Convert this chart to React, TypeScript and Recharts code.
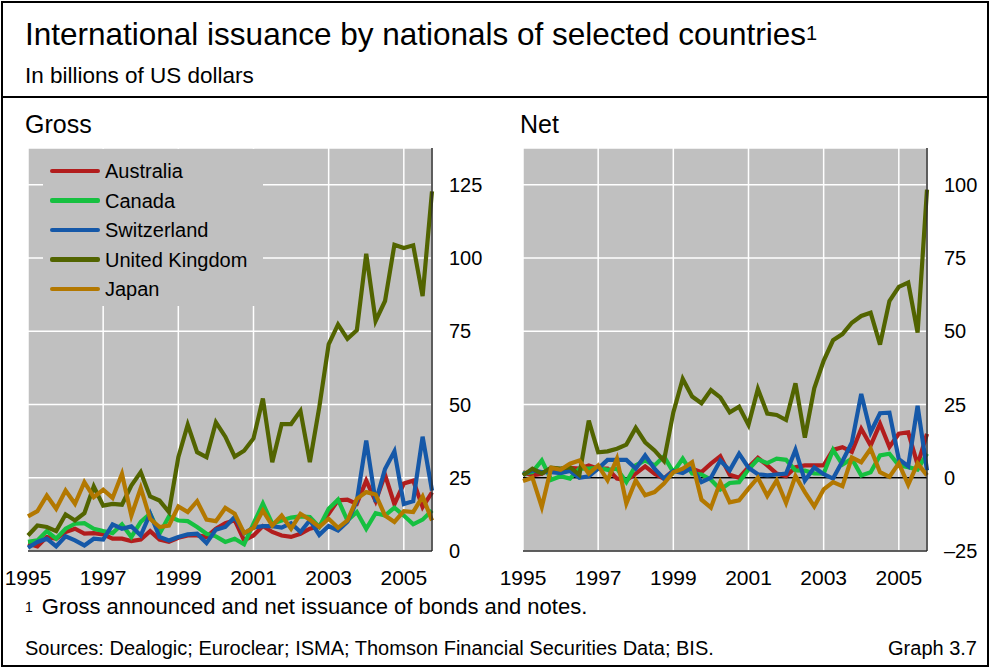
import React from 'react';
import { LineChart, Line, XAxis, YAxis, CartesianGrid, ReferenceLine } from 'recharts';

// quarterly observations, 1995 Q1 - 2005 Q4
const years = [1995, 1996, 1997, 1998, 1999, 2000, 2001, 2002, 2003, 2004, 2005];
const quarterOffsets = [0, 0.25, 0.5, 0.75];

const xTicks = [1995, 1997, 1999, 2001, 2003, 2005];
const grossTicks = [0, 25, 50, 75, 100, 125];
const netTicks = [-25, 0, 25, 50, 75, 100];

const seriesNames = ['Australia', 'Canada', 'Switzerland', 'United Kingdom', 'Japan'];
const seriesColors = ['#b21d1d', '#16c040', '#1558a8', '#526400', '#b37800'];

// Gross issuance
const grossAustralia = [2.5, 1.6, 4.8, 4.2, 6.5, 7.6, 5.9, 6.1, 5.7, 4.2, 4.2, 3.4, 3.9, 6.8, 3.9, 3.1, 4.5, 5.3, 5.3, 4.8, 7.6, 9.5, 10.5, 3.6, 5.3, 8.5, 6.5, 5.3, 4.8, 5.9, 7.6, 8.4, 12.7, 17.3, 17.5, 16.1, 24, 17, 26, 16, 23, 24, 15, 20];
const grossCanada = [3.1, 3.6, 6.8, 4.2, 7.6, 9.3, 9.5, 7.6, 6.8, 6.1, 9.1, 4.8, 9.9, 12.7, 5.9, 11.8, 10.4, 10.2, 8.2, 5.9, 5, 3.1, 4.2, 2.3, 9.3, 16.2, 9.3, 10.4, 11.4, 11.8, 11.6, 8.2, 14.4, 17.5, 10.4, 13.3, 7.6, 12.9, 12.1, 14.8, 12.1, 9.1, 10.7, 13.8];
const grossSwitzerland = [1.1, 3.1, 4.2, 1.6, 5, 3.6, 1.9, 4.2, 3.9, 9.1, 7.6, 8.4, 5.3, 12.7, 4.8, 3.6, 4.8, 5.7, 5.9, 2.7, 7.3, 8.2, 11.6, 6, 8, 8.5, 8.5, 8, 9.5, 6.5, 10.5, 5.5, 8.5, 7, 10, 17, 37.7, 16.7, 28, 34, 16, 17, 39, 20.6];
const grossUK = [5.3, 8.7, 8.2, 6.8, 12.5, 10.4, 12.9, 22, 15.5, 16.1, 15.8, 22.3, 26.9, 18.6, 17.2, 13.3, 32, 43.1, 33.7, 32, 43.9, 39, 32.2, 34.2, 38.4, 52, 30.3, 43.3, 43.3, 47.8, 30.3, 49, 70.5, 77.3, 72.4, 75.3, 101.4, 78.5, 85.3, 104.5, 103.4, 104.3, 87, 122.7];
const grossJapan = [11.8, 13.6, 18.9, 14.4, 20.6, 16.1, 23.5, 18.4, 20.9, 18.1, 26.3, 12.1, 21.5, 11, 8.2, 8.7, 15.2, 13.3, 17, 10.7, 10.2, 14.7, 12.7, 6.1, 7.9, 13.8, 8.7, 12.1, 7.6, 12.7, 10.7, 8.2, 11, 7.9, 10.4, 17.8, 20.1, 19.3, 12.1, 9.9, 13.6, 13.3, 18.6, 10.4];

// Net issuance
const netAustralia = [1.9, 0.8, 1.4, 3.1, 2.5, 3.4, 3.1, 4.2, 3.1, 3.1, -0.3, -0.9, 1.4, 3.9, 1.4, -0.3, 2.5, 2.3, 3.1, 1.9, 4.8, 7.3, 1, 0, 3.6, 6.8, 4.2, 1.4, 0.5, 3.6, 4.2, 4.2, 4.2, 9.5, 10.4, 8.8, 16.7, 11, 18.4, 10.5, 15, 15.5, 4.5, 15];
const netCanada = [1.4, 1.9, 5.9, -0.7, 0.5, -0.3, 3.1, 3.1, 3.4, 2.7, 3.1, -1.5, 4.2, 5.9, 4.2, 7.3, 1.9, 6.5, 1.4, 1.1, -0.7, -4, -1.8, -1.5, 2.8, 6.3, 5, 6.5, 6.1, 2.5, 2.4, 1.5, 1.4, 9.5, 4.5, 6.5, 0.8, 1.9, 7.6, 8.2, 4.2, 3.6, 2.8, 8.2];
const netSwitzerland = [1.1, 2.5, 1.9, 1.9, 1.6, 2.3, 0, 0.5, 3.1, 6.1, 6.1, 6.1, 3.1, 7.6, 3.1, -0.3, 2.3, 1.6, 3.4, -1.5, 0, 5.9, 2.5, 8.2, 3.4, 1.2, 0.8, 1.1, 1.4, 9.5, -1, 3.5, 1.2, -0.3, 5.6, 12, 28.6, 15.5, 22, 22.2, 6.3, 3.9, 24.5, 2.5];
const netUK = [0.8, 3.1, 1.4, 3.4, 3.1, 3.6, 1, 19.5, 8.7, 9, 9.9, 11.3, 17, 12.1, 9.3, 5.7, 22.3, 33.7, 27.7, 25.4, 29.9, 27.4, 22.3, 24.2, 18, 30.3, 21.9, 21.4, 19.7, 32.2, 13.7, 30.5, 39.9, 46.9, 49, 52.9, 55.2, 56.3, 45.4, 60.3, 65.1, 66.6, 49.5, 98.3];
const netJapan = [-1.1, 0, -10, 3.4, 2.7, 4.8, 5.9, 1.4, 4.2, -0.9, 6.5, -8.8, -0.9, -6, -4.9, -2, 1.9, 3.1, 5.3, -7.5, -10.2, -1.5, -8.4, -7.7, -3.7, 0, -6.2, -0.9, -8.6, 0.6, -4.9, -9.8, -4, -1.5, -2.9, 6.9, 5.3, 9.9, 1.9, 0.3, 4.9, -2.4, 4.9, 0.8];

const periods = years.flatMap((y) => quarterOffsets.map((q) => y + q));

const buildRows = (cols: number[][]) =>
  periods.map((t, i) => {
    const row: Record<string, number> = { t };
    seriesNames.forEach((name, k) => {
      row[name] = cols[k][i];
    });
    return row;
  });

const grossRows = buildRows([grossAustralia, grossCanada, grossSwitzerland, grossUK, grossJapan]);
const netRows = buildRows([netAustralia, netCanada, netSwitzerland, netUK, netJapan]);

const FONT = '"Liberation Sans", Arial, Helvetica, sans-serif';
const frame = { stroke: '#2a2a2a', strokeWidth: 1.5 };
const fmt = (v: number) => (v < 0 ? '\u2013' + Math.abs(v) : String(v));

function Panel({ rows, yDomain, yTicks, zero }: { rows: any[]; yDomain: number[]; yTicks: number[]; zero?: boolean }) {
  return (
    <LineChart width={500} height={460} data={rows} margin={{ top: 8, right: 8, bottom: 9, left: 28 }}>
      <CartesianGrid stroke="#ffffff" strokeWidth={1.5} fill="#c0c0c0" fillOpacity={1} />
      <XAxis
        dataKey="t"
        type="number"
        domain={[1995, 2005.75]}
        ticks={xTicks}
        interval={0}
        height={40}
        tickLine={false}
        tickSize={0}
        tickMargin={19}
        axisLine={frame}
        tick={{ fill: '#000', fontSize: 21 }}
      />
      <XAxis xAxisId="top" orientation="top" type="number" domain={[1995, 2005.75]} height={0} tick={false} tickLine={false} axisLine={frame} />
      <YAxis
        orientation="right"
        domain={yDomain}
        ticks={yTicks}
        interval={0}
        width={60}
        tickLine={false}
        tickSize={0}
        tickMargin={17}
        axisLine={frame}
        tickFormatter={fmt}
        tick={{ fill: '#000', fontSize: 20 }}
        allowDataOverflow
      />
      <YAxis yAxisId="left" orientation="left" domain={yDomain} width={0} tick={false} tickLine={false} axisLine={frame} />
      {zero && <ReferenceLine y={0} stroke="#000" strokeWidth={1.5} />}
      {seriesNames.map((name, k) => (
        <Line
          key={name}
          dataKey={name}
          type="linear"
          stroke={seriesColors[k]}
          strokeWidth={4.2}
          dot={false}
          isAnimationActive={false}
        />
      ))}
    </LineChart>
  );
}

export default function App() {
  return (
    <div style={{ position: 'absolute', left: 0, top: 0, width: 992, height: 669, background: '#fff', fontFamily: FONT, color: '#000' }}>
      <div style={{ position: 'absolute', left: 1, top: 1, width: 988, height: 666, border: '2px solid #000', boxSizing: 'border-box' }} />
      <div style={{ position: 'absolute', left: 1, top: 96, width: 988, height: 2, background: '#000' }} />

      <div style={{ position: 'absolute', left: 25, top: 18, fontSize: 31.5, lineHeight: '32px', whiteSpace: 'nowrap' }}>
        International issuance by nationals of selected countries
        <sup style={{ fontSize: 20, verticalAlign: 'top', position: 'relative', top: -1 }}>1</sup>
      </div>
      <div style={{ position: 'absolute', left: 25, top: 64, fontSize: 22.5, lineHeight: '23px', whiteSpace: 'nowrap' }}>
        In billions of US dollars
      </div>

      <div style={{ position: 'absolute', left: 25, top: 112, fontSize: 25, lineHeight: '25px' }}>Gross</div>
      <div style={{ position: 'absolute', left: 520, top: 112, fontSize: 25, lineHeight: '25px' }}>Net</div>

      <div style={{ position: 'absolute', left: 0, top: 140 }}>
        <Panel rows={grossRows} yDomain={[0, 137.5]} yTicks={grossTicks} />
      </div>
      <div style={{ position: 'absolute', left: 495, top: 140 }}>
        <Panel rows={netRows} yDomain={[-25, 112.5]} yTicks={netTicks} zero />
      </div>

      <div style={{ position: 'absolute', left: 43, top: 149, width: 220, height: 157, background: '#c0c0c0' }}>
        {seriesNames.map((name, k) => (
          <div key={name} style={{ position: 'absolute', left: 0, top: 7 + k * 29.5, height: 29.5, width: 220 }}>
            <div style={{ position: 'absolute', left: 7, top: 12.5, width: 50, height: 4.5, borderRadius: 2, background: seriesColors[k] }} />
            <div style={{ position: 'absolute', left: 62, top: 4, fontSize: 20, lineHeight: '22px', whiteSpace: 'nowrap' }}>{name}</div>
          </div>
        ))}
      </div>

      <div style={{ position: 'absolute', left: 25, top: 595, fontSize: 22, lineHeight: '24px', whiteSpace: 'nowrap' }}>
        <sup style={{ fontSize: 14, verticalAlign: 'top', marginRight: 9 }}>1</sup>
        Gross announced and net issuance of bonds and notes.
      </div>
      <div style={{ position: 'absolute', left: 25, top: 637, fontSize: 20, lineHeight: '22px', whiteSpace: 'nowrap' }}>
        Sources: Dealogic; Euroclear; ISMA; Thomson Financial Securities Data; BIS.
      </div>
      <div style={{ position: 'absolute', right: 15, top: 637, fontSize: 20, lineHeight: '22px', whiteSpace: 'nowrap' }}>
        Graph 3.7
      </div>
    </div>
  );
}
